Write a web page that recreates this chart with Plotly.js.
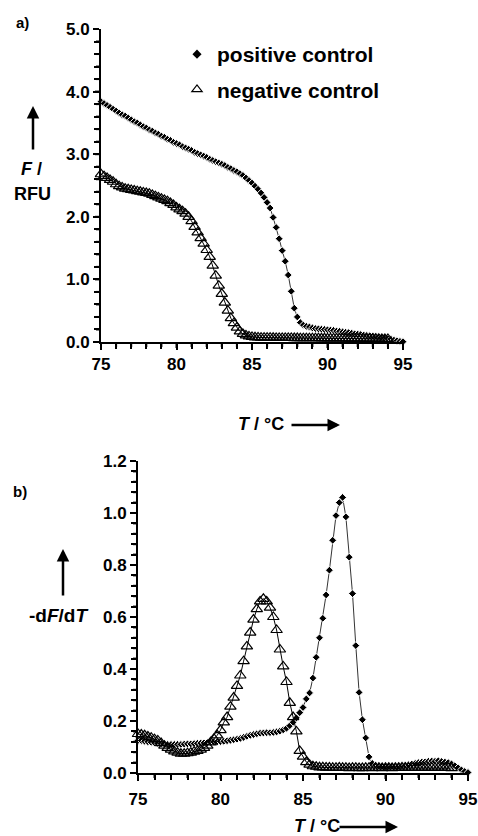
<!DOCTYPE html>
<html>
<head>
<meta charset="utf-8">
<script src="https://cdn.plot.ly/plotly-3.0.1.min.js"></script>
<style>html,body{margin:0;padding:0;background:#fff;}#chart{width:478px;height:836px;}</style>
</head>
<body>
<div id="chart"></div>
<script>
// Temperature (°C)
var tempsC = [75.0,75.2,75.4,75.6,75.8,76.0,76.2,76.4,76.6,76.8,77.0,77.2,77.4,77.6,77.8,78.0,78.2,78.4,78.6,78.8,79.0,79.2,79.4,79.6,79.8,80.0,80.2,80.4,80.6,80.8,81.0,81.2,81.4,81.6,81.8,82.0,82.2,82.4,82.6,82.8,83.0,83.2,83.4,83.6,83.8,84.0,84.2,84.4,84.6,84.8,85.0,85.2,85.4,85.6,85.8,86.0,86.2,86.4,86.6,86.8,87.0,87.2,87.4,87.6,87.8,88.0,88.2,88.4,88.6,88.8,89.0,89.2,89.4,89.6,89.8,90.0,90.2,90.4,90.6,90.8,91.0,91.2,91.4,91.6,91.8,92.0,92.2,92.4,92.6,92.8,93.0,93.2,93.4,93.6,93.8,94.0,94.2,94.4,94.6,94.8,95.0];

// a) fluorescence F / RFU
var positiveF = [3.84,3.81,3.78,3.75,3.72,3.69,3.66,3.63,3.61,3.58,3.55,3.52,3.50,3.47,3.44,3.42,3.39,3.37,3.34,3.32,3.29,3.27,3.24,3.22,3.19,3.17,3.15,3.12,3.10,3.08,3.06,3.03,3.01,2.99,2.97,2.95,2.92,2.90,2.88,2.86,2.84,2.82,2.79,2.77,2.74,2.72,2.69,2.66,2.62,2.58,2.54,2.49,2.44,2.38,2.31,2.23,2.14,1.99,1.83,1.65,1.46,1.29,1.07,0.81,0.54,0.40,0.31,0.27,0.25,0.24,0.225,0.215,0.21,0.205,0.20,0.195,0.19,0.185,0.175,0.17,0.16,0.155,0.15,0.14,0.13,0.125,0.12,0.11,0.105,0.10,0.095,0.09,0.085,0.075,0.065,0.055,0.045,0.03,0.02,0.01,0.005];
var negativeF = [2.68,2.65,2.62,2.59,2.56,2.52,2.49,2.47,2.45,2.44,2.43,2.42,2.41,2.40,2.39,2.38,2.37,2.35,2.33,2.31,2.29,2.27,2.25,2.22,2.19,2.15,2.12,2.09,2.05,2.00,1.93,1.84,1.75,1.66,1.57,1.47,1.36,1.22,1.06,0.90,0.77,0.63,0.50,0.38,0.30,0.23,0.17,0.13,0.105,0.09,0.08,0.075,0.072,0.07,0.07,0.068,0.068,0.067,0.066,0.066,0.065,0.065,0.064,0.064,0.063,0.063,0.062,0.062,0.061,0.061,0.06,0.06,0.06,0.059,0.059,0.058,0.058,0.057,0.057,0.056,0.056,0.055,0.055,0.054,0.054,0.053,0.053,0.052,0.052,0.051,0.051,0.05,0.05,0.049,0.049,0.048];

// b) -dF/dT
var positiveD = [0.125,0.125,0.122,0.12,0.118,0.116,0.114,0.112,0.111,0.11,0.11,0.11,0.11,0.11,0.111,0.112,0.112,0.113,0.114,0.115,0.116,0.117,0.118,0.119,0.12,0.121,0.122,0.124,0.126,0.128,0.13,0.133,0.137,0.141,0.145,0.148,0.151,0.153,0.154,0.155,0.155,0.156,0.158,0.161,0.166,0.172,0.182,0.195,0.212,0.232,0.252,0.285,0.308,0.365,0.445,0.52,0.595,0.685,0.78,0.895,0.99,1.04,1.06,0.985,0.83,0.69,0.49,0.31,0.205,0.135,0.062,0.037,0.03,0.027,0.026,0.025,0.025,0.026,0.026,0.027,0.028,0.03,0.032,0.035,0.037,0.04,0.042,0.043,0.045,0.046,0.045,0.047,0.044,0.042,0.04,0.035,0.028,0.02,0.012,0.006,0.002];
var negativeD = [0.15,0.148,0.145,0.14,0.136,0.13,0.125,0.115,0.105,0.097,0.09,0.083,0.078,0.074,0.074,0.076,0.078,0.082,0.085,0.09,0.097,0.105,0.118,0.132,0.145,0.165,0.195,0.215,0.255,0.29,0.335,0.375,0.43,0.487,0.54,0.59,0.63,0.66,0.67,0.66,0.636,0.60,0.55,0.475,0.41,0.35,0.27,0.215,0.16,0.085,0.063,0.042,0.032,0.026,0.024,0.022,0.022,0.021,0.021,0.02,0.02,0.021,0.02,0.02,0.019,0.02,0.02,0.019,0.019,0.02,0.02,0.019,0.02,0.02,0.019,0.02,0.02,0.019,0.02,0.02,0.021,0.02,0.02,0.021,0.02,0.02,0.021,0.02,0.02,0.021,0.02,0.02,0.021,0.02,0.02,0.019];

var seriesNames = ['positive control', 'negative control'];

// tick labels
var tempTickVals = [75, 80, 85, 90, 95];
var tempTickLabels = ['75', '80', '85', '90', '95'];
var fTickVals = [0, 1, 2, 3, 4, 5];
var fTickLabels = ['0.0', '1.0', '2.0', '3.0', '4.0', '5.0'];
var dTickVals = [0, 0.2, 0.4, 0.6, 0.8, 1.0, 1.2];
var dTickLabels = ['0.0', '0.2', '0.4', '0.6', '0.8', '1.0', '1.2'];

var W = 478, H = 836;
var M = {l:20, r:5, t:10, b:5};
var PW = W - M.l - M.r, PH = H - M.t - M.b;
function px(x){ return (x - M.l) / PW; }
function py(y){ return 1 - (y - M.t) / PH; }

var FONT = 'Liberation Sans, Arial, Helvetica, sans-serif';

var posMarker = {symbol:'diamond', size:6, color:'black', line:{color:'white', width:1}};
var negMarker = {symbol:'triangle-up-open', size:10, color:'black', line:{color:'black', width:1.2}};

var traces = [
  {x: tempsC, y: positiveF, xaxis:'x', yaxis:'y', mode:'lines+markers', line:{color:'black', width:0.8}, marker: posMarker, showlegend:false, cliponaxis:false},
  {x: tempsC, y: negativeF, xaxis:'x', yaxis:'y', mode:'lines+markers', line:{color:'black', width:1}, marker: negMarker, showlegend:false, cliponaxis:false},
  {x: tempsC, y: positiveD, xaxis:'x2', yaxis:'y2', mode:'lines+markers', line:{color:'black', width:0.8}, marker: posMarker, showlegend:false, cliponaxis:false},
  {x: tempsC, y: negativeD, xaxis:'x2', yaxis:'y2', mode:'lines+markers', line:{color:'black', width:1}, marker: negMarker, showlegend:false, cliponaxis:false},
  {x:[null], y:[null], xaxis:'x', yaxis:'y', mode:'markers', name: seriesNames[0], legendgroup:'p', marker:{symbol:'diamond', size:7, color:'black'}, showlegend:true},
  {x:[null], y:[null], xaxis:'x', yaxis:'y', mode:'markers', name: seriesNames[1], legendgroup:'n', marker:{symbol:'triangle-up-open', size:9, color:'black', line:{width:1.2}}, showlegend:true}
];

function axisBase(extra){
  var a = {showline:true, linewidth:2, linecolor:'black', ticks:'outside', ticklen:6, tickwidth:2, tickcolor:'rgb(0,0,0)',
    showgrid:false, zeroline:false, automargin:false, tickmode:'array',
    tickfont:{family:FONT, size:17, weight:'bold', color:'black'}};
  for (var k in extra) a[k] = extra[k];
  return a;
}
function minorTicks(d){ return {ticks:'outside', ticklen:5, tickwidth:2, tickcolor:'rgb(0,0,0)', dtick:d}; }

// tick marks also drawn as axis-referenced shapes (same places as the axis ticks)
var shapes = [];
function addXTicks(xref, yDomRef, lo, hi, step, perMajor, domPx){
  var n = Math.round((hi - lo) / step);
  for (var i = 0; i <= n; i++){
    var v = +(lo + i * step).toFixed(4);
    var len = (i % perMajor === 0 ? 6 : 5) / domPx;
    shapes.push({type:'line', xref:xref, yref:yDomRef, x0:v, x1:v, y0:0, y1:-len, line:{color:'black', width:2}, layer:'above'});
  }
}
function addYTicks(xDomRef, yref, lo, hi, step, perMajor, domPx){
  var n = Math.round((hi - lo) / step);
  for (var i = 0; i <= n; i++){
    var v = +(lo + i * step).toFixed(4);
    var len = (i % perMajor === 0 ? 6 : 5) / domPx;
    shapes.push({type:'line', xref:xDomRef, yref:yref, x0:0, x1:-len, y0:v, y1:v, line:{color:'black', width:2}, layer:'above'});
  }
}
addXTicks('x', 'y domain', 75, 95, 1, 5, 313);
addYTicks('x domain', 'y', 0, 5, 0.2, 5, 302);
addXTicks('x2', 'y2 domain', 75, 95, 1, 5, 312);
addYTicks('x2 domain', 'y2', 0, 1.2, 0.04, 5, 330);

var layout = {
  width: W, height: H,
  margin: M,
  paper_bgcolor:'white', plot_bgcolor:'rgba(0,0,0,0)',
  showlegend: true,
  legend: {x: px(177), y: py(34), xanchor:'left', yanchor:'top', bgcolor:'rgba(0,0,0,0)', traceorder:'grouped',
    font:{family:FONT, size:21, weight:'bold', color:'black'}, itemwidth:30, tracegroupgap:5},
  xaxis: axisBase({domain:[px(101), px(403)], anchor:'y', range:[75,95], tickvals: tempTickVals, ticktext: tempTickLabels, minor: minorTicks(1)}),
  yaxis: axisBase({domain:[py(342), py(29)], anchor:'x', range:[0,5], tickvals: fTickVals, ticktext: fTickLabels, minor: minorTicks(0.2)}),
  xaxis2: axisBase({domain:[px(138), px(468)], anchor:'y2', range:[75,95], tickvals: tempTickVals, ticktext: tempTickLabels, minor: minorTicks(1), ticklabelstandoff:4}),
  yaxis2: axisBase({domain:[py(773), py(461)], anchor:'x2', range:[0,1.2], tickvals: dTickVals, ticktext: dTickLabels, minor: minorTicks(0.04)}),
  shapes: shapes,
  annotations: [
    {xref:'paper', yref:'paper', x:px(22), y:py(22), xanchor:'center', yanchor:'middle', text:'a)', showarrow:false, font:{family:FONT, size:15, weight:'bold', color:'black'}},
    {xref:'paper', yref:'paper', x:px(20), y:py(491), xanchor:'center', yanchor:'middle', text:'b)', showarrow:false, font:{family:FONT, size:15, weight:'bold', color:'black'}},
    {xref:'paper', yref:'paper', x:px(33), y:py(106), ax:0, ay:45, text:'', showarrow:true, arrowhead:2, arrowsize:1, arrowwidth:2.5, arrowcolor:'black'},
    {xref:'paper', yref:'paper', x:px(31), y:py(169), xanchor:'center', yanchor:'middle', text:'<i>F</i> /', showarrow:false, font:{family:FONT, size:18, weight:'bold', color:'black'}},
    {xref:'paper', yref:'paper', x:px(32), y:py(194), xanchor:'center', yanchor:'middle', text:'RFU', showarrow:false, font:{family:FONT, size:18, weight:'bold', color:'black'}},
    {xref:'paper', yref:'paper', x:px(261), y:py(424), xanchor:'center', yanchor:'middle', text:'<i>T</i> / °C', showarrow:false, font:{family:FONT, size:18, weight:'bold', color:'black'}},
    {xref:'paper', yref:'paper', x:px(340), y:py(425), ax:-50, ay:0, text:'', showarrow:true, arrowhead:2, arrowsize:1, arrowwidth:2.5, arrowcolor:'black'},
    {xref:'paper', yref:'paper', x:px(63), y:py(549), ax:0, ay:48, text:'', showarrow:true, arrowhead:2, arrowsize:1, arrowwidth:2.5, arrowcolor:'black'},
    {xref:'paper', yref:'paper', x:px(58), y:py(615), xanchor:'center', yanchor:'middle', text:'-d<i>F</i>/d<i>T</i>', showarrow:false, font:{family:FONT, size:19, weight:'bold', color:'black'}},
    {xref:'paper', yref:'paper', x:px(317), y:py(826), xanchor:'center', yanchor:'middle', text:'<i>T</i> / °C', showarrow:false, font:{family:FONT, size:18, weight:'bold', color:'black'}},
    {xref:'paper', yref:'paper', x:px(398), y:py(827), ax:-60, ay:0, text:'', showarrow:true, arrowhead:2, arrowsize:1, arrowwidth:2.5, arrowcolor:'black'}
  ]
};

Plotly.newPlot('chart', traces, layout, {displayModeBar:false, staticPlot:true});
</script>
</body>
</html>
